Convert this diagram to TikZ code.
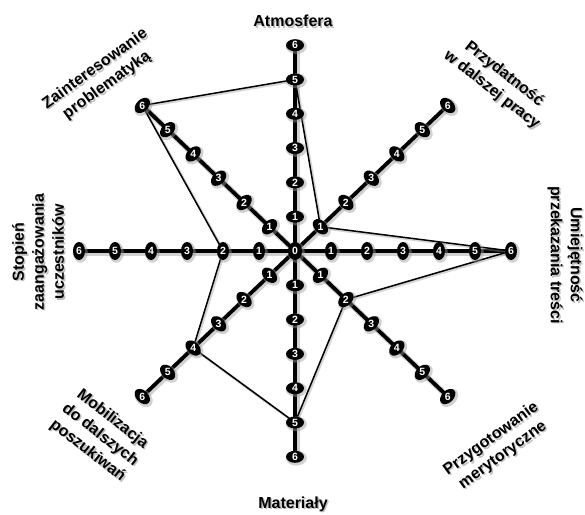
\documentclass[tikz,border=0pt]{standalone}
\usepackage{fontspec}
\setmainfont{Liberation Sans}
\usetikzlibrary{shapes.geometric}
\begin{document}
\begin{tikzpicture}[x=1pt,y=-1pt,
  axisline/.style={line width=3.8pt, black},
  axisshadow/.style={line width=6pt, black!40, opacity=0.45},
  polyline/.style={line width=1.5pt, black, line join=round},
  polyshadow/.style={line width=2.6pt, black!40, opacity=0.4, line join=round},
  tickblob/.style={ellipse, fill=black, inner sep=0pt, minimum width=12pt, minimum height=18pt},
  tickshadow/.style={ellipse, fill=black!40, opacity=0.45, inner sep=0pt, minimum width=15pt, minimum height=21pt},
  ticknum/.style={text=white, font=\bfseries\fontsize{10.5}{11}\selectfont, inner sep=0pt},
  lab/.style={font=\bfseries\fontsize{16}{20}\selectfont, align=center, inner sep=0pt},
  labshadow/.style={lab, text=black!45, opacity=0.55},
]
\useasboundingbox (0,0) rectangle (585,514);
\fill[white] (0,0) rectangle (585,514);

\def\cx{295}\def\cy{251}\def\rx{36}\def\ry{34.3}
\coordinate (c) at (\cx,\cy);
\foreach \a in {0,45,...,315}{
  \foreach \i in {0,...,6}{
    \coordinate (p-\a-\i) at ({\cx+\i*\rx*cos(\a)},{\cy-\i*\ry*sin(\a)});
  }
}

% axis shadows and axes
\foreach \a in {0,45,...,315}{
  \draw[axisshadow] ([shift={(1.5,1.5)}]c) -- ([shift={(1.5,1.5)}]p-\a-6);
}
\foreach \a in {0,45,...,315}{
  \draw[axisline] (c) -- (p-\a-6);
}

% value polygon
\draw[polyshadow] ([shift={(1.2,1.2)}]p-90-5) -- ([shift={(1.2,1.2)}]p-45-1) -- ([shift={(1.2,1.2)}]p-0-6) -- ([shift={(1.2,1.2)}]p-315-2) -- ([shift={(1.2,1.2)}]p-270-5) -- ([shift={(1.2,1.2)}]p-225-4) -- ([shift={(1.2,1.2)}]p-180-2) -- ([shift={(1.2,1.2)}]p-135-6) -- cycle;
\draw[polyline] (p-90-5) -- (p-45-1) -- (p-0-6) -- (p-315-2) -- (p-270-5) -- (p-225-4) -- (p-180-2) -- (p-135-6) -- cycle;

% ticks
\foreach \a in {0,45,...,315}{
  \foreach \i in {1,...,6}{
    \node[tickshadow, rotate=\a] (s-\a-\i) at ([shift={(1.3,1.3)}]p-\a-\i) {};
  }
}
\node[tickshadow, minimum width=17pt, minimum height=21pt] (s0) at ([shift={(1.3,1.3)}]c) {};
\foreach \a in {0,45,...,315}{
  \foreach \i in {1,...,6}{
    \node[tickblob, rotate=\a] (t-\a-\i) at (p-\a-\i) {};
    \node[ticknum] (n-\a-\i) at (t-\a-\i) {\i};
  }
}
\node[tickblob, minimum width=14pt, minimum height=18pt] (t0) at (c) {};
\node[ticknum] (n0) at (t0) {0};

% labels (shadow, then text)
\node[labshadow] (ls1) at (294.5,22.5) {Atmosfera};
\node[lab] (l1) at (293,21) {Atmosfera};
\node[labshadow] (ls2) at (294.5,505.5) {Materiały};
\node[lab] (l2) at (293,504) {Materiały};
\node[labshadow, rotate=36] (ls3) at (102.5,78.5) {Zainteresowanie\\problematyką};
\node[lab, rotate=36] (l3) at (101,77) {Zainteresowanie\\problematyką};
\node[labshadow, rotate=-38] (ls4) at (499.5,83.5) {Przydatność\\w dalszej pracy};
\node[lab, rotate=-38] (l4) at (498,82) {Przydatność\\w dalszej pracy};
\node[labshadow, rotate=90] (ls5) at (39.5,253.5) {Stopień\\zaangażowania\\uczestników};
\node[lab, rotate=90] (l5) at (38,252) {Stopień\\zaangażowania\\uczestników};
\node[labshadow, rotate=-90] (ls6) at (566.5,256.5) {Umiejętność\\przekazania treści};
\node[lab, rotate=-90] (l6) at (565,255) {Umiejętność\\przekazania treści};
\node[labshadow, rotate=-38] (ls7) at (101.5,436.5) {Mobilizacja\\do dalszych\\poszukiwań};
\node[lab, rotate=-38] (l7) at (100,435) {Mobilizacja\\do dalszych\\poszukiwań};
\node[labshadow, rotate=36] (ls8) at (498.5,448.5) {Przygotowanie\\merytoryczne};
\node[lab, rotate=36] (l8) at (497,447) {Przygotowanie\\merytoryczne};
\end{tikzpicture}
\end{document}
